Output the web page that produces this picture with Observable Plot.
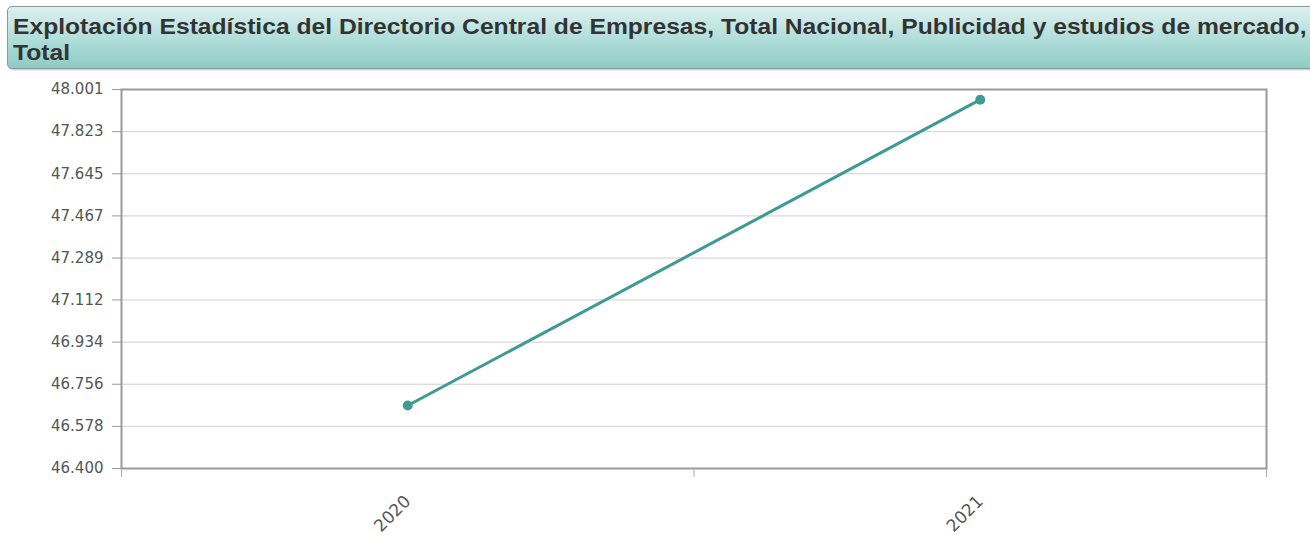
<!DOCTYPE html>
<html>
<head>
<meta charset="utf-8">
<script src="https://cdn.jsdelivr.net/npm/d3@7"></script>
<script src="https://cdn.jsdelivr.net/npm/@observablehq/plot@0.6"></script>
<style>
  html, body { margin: 0; padding: 0; background: #fff; width: 1310px; height: 540px; overflow: hidden; }
  #title {
    position: absolute; left: 7px; top: 6px; width: 1330px; height: 63px;
    box-sizing: border-box; border: 1px solid #8a9a98; border-radius: 5px;
    background: linear-gradient(to bottom, #dcf0ee 0%, #b3dfdb 50%, #8ecac4 100%);
    box-shadow: 1px 1px 2px rgba(0,0,0,0.25);
    font-family: "Liberation Sans", Arial, sans-serif; font-weight: bold; font-size: 22px;
    color: #333; line-height: 26px; padding: 7px 0 0 5px; white-space: nowrap;
  }
  #title span { display: inline-block; transform: scaleX(1.12); transform-origin: left top; }
  #chart { position: absolute; left: 0; top: 75px; }
  #chart svg g[aria-label="frame"] { filter: drop-shadow(2px 2px 2px rgba(0,0,0,0.35)); }
</style>
</head>
<body>
<div id="title"><span>Explotación Estadística del Directorio Central de Empresas, Total Nacional, Publicidad y estudios de mercado,<br>Total</span></div>
<div id="chart"></div>
<script>
const years = [2020, 2021];
const empresas = [46666, 47958];
const yTicks = [46400, 46578, 46756, 46934, 47112, 47289, 47467, 47645, 47823, 48001];

const data = years.map((y, i) => ({year: y, value: empresas[i]}));
const es = d3.formatLocale({decimal: ",", thousands: ".", grouping: [3], currency: ["", " €"]});
const fmt = es.format(",.0f");
const xBounds = d3.range(d3.min(years) - 0.5, d3.max(years) + 1, 1);

const chart = Plot.plot({
  width: 1310,
  height: 465,
  marginLeft: 121,
  marginRight: 44,
  marginTop: 14,
  marginBottom: 72,
  style: {fontFamily: "'DejaVu Sans', Verdana, sans-serif", fontSize: "15px", color: "#555", background: "transparent"},
  x: {domain: [d3.min(years) - 0.5, d3.max(years) + 0.5], axis: null, label: null},
  y: {domain: [yTicks[0], yTicks[yTicks.length - 1]], axis: null, label: null},
  marks: [
    Plot.gridY(yTicks, {stroke: "#cfcfcf", strokeOpacity: 1, strokeWidth: 1}),
    Plot.frame({stroke: "#9a9a9a", strokeWidth: 2}),
    Plot.axisY({ticks: yTicks, tickFormat: fmt, tickSize: 9, tickPadding: 9, stroke: "#999", fill: "#555", letterSpacing: 1.2, label: null}),
    Plot.axisX({ticks: xBounds, tickFormat: () => "", tickSize: 9, stroke: "#aaa", label: null}),
    Plot.axisX({ticks: years, tickFormat: d => String(d), tickSize: 0, tickRotate: -45, tickPadding: 30, fill: "#555", fontSize: 17, letterSpacing: 0.5, label: null}),
    Plot.line(data, {x: "year", y: "value", stroke: "#3f9a93", strokeWidth: 3}),
    Plot.dot(data, {x: "year", y: "value", r: 5, fill: "#3f9a93", stroke: "none"})
  ]
});
document.getElementById("chart").appendChild(chart);
</script>
</body>
</html>
